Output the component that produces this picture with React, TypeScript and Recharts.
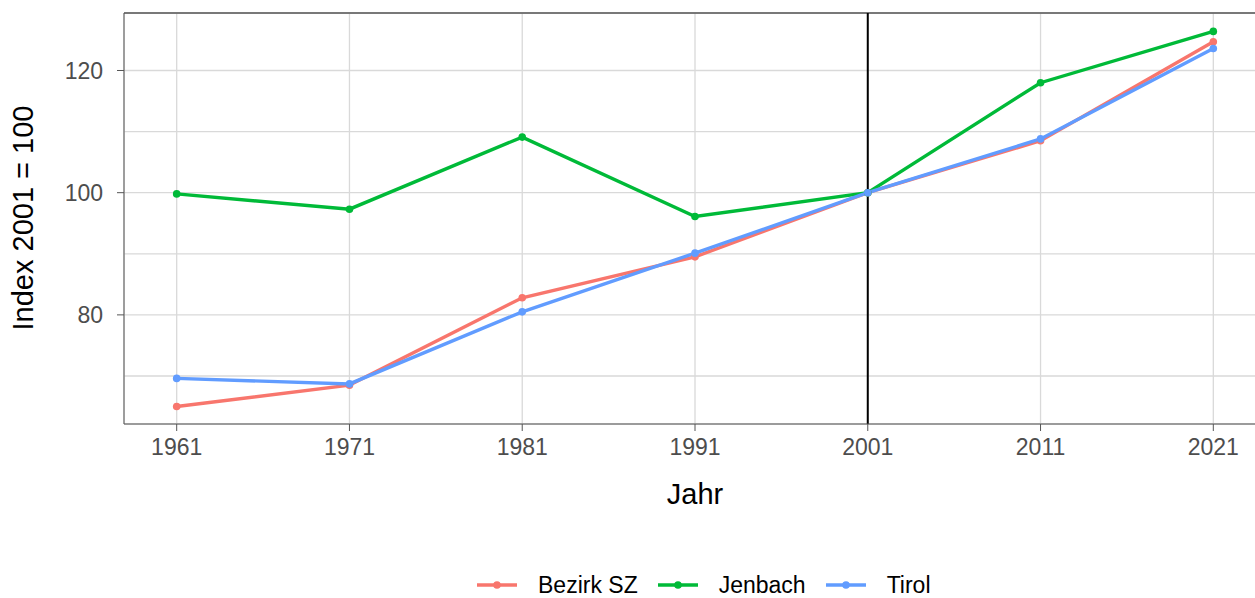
import { LineChart, Line, XAxis, YAxis, CartesianGrid, ReferenceLine } from 'recharts';

// Index 2001 = 100
const years = [1961, 1971, 1981, 1991, 2001, 2011, 2021];
const bezirkSZ = [65.0, 68.5, 82.8, 89.5, 100, 108.5, 124.7];
const jenbach = [99.8, 97.3, 109.1, 96.1, 100, 118.0, 126.4];
const tirol = [69.6, 68.7, 80.5, 90.1, 100, 108.8, 123.6];

const yTicks = [80, 100, 120];
const yMinor = [70, 90, 110];

const series = [
  { key: 'bezirk', name: 'Bezirk SZ', color: '#F8766D' },
  { key: 'jenbach', name: 'Jenbach', color: '#00BA38' },
  { key: 'tirol', name: 'Tirol', color: '#619CFF' },
];

const data = years.map((year, i) => ({
  year,
  bezirk: bezirkSZ[i],
  jenbach: jenbach[i],
  tirol: tirol[i],
}));

const FONT = '"Liberation Sans", Arial, sans-serif';
const Y_MIN = 62.14;
const Y_MAX = 129.41;

const YTitle = () => (
  <text
    x={23}
    y={218}
    transform="rotate(-90, 23, 218)"
    textAnchor="middle"
    dominantBaseline="central"
    fontSize={29}
    fill="#000"
    fontFamily={FONT}
  >
    Index 2001 = 100
  </text>
);

function LegendBox() {
  return (
    <div
      style={{
        position: 'absolute',
        left: 477,
        top: 572,
        display: 'flex',
        alignItems: 'center',
        fontFamily: FONT,
        fontSize: 23,
        color: '#000',
      }}
    >
      {series.map((s) => (
        <div key={s.key} style={{ display: 'flex', alignItems: 'center', marginRight: 20 }}>
          <svg width={40} height={26}>
            <line x1={0} y1={13} x2={40} y2={13} stroke={s.color} strokeWidth={3.4} />
            <circle cx={20} cy={13} r={3.8} fill={s.color} />
          </svg>
          <span style={{ marginLeft: 21, lineHeight: '26px' }}>{s.name}</span>
        </div>
      ))}
    </div>
  );
}

export default function App() {
  return (
    <div
      style={{
        position: 'absolute',
        left: 0,
        top: 0,
        width: 1255,
        height: 598,
        overflow: 'hidden',
        background: '#fff',
        fontFamily: FONT,
      }}
    >
      <LineChart width={1266} height={598} data={data} margin={{ top: 13, right: 0, bottom: 84, left: 0 }}>
        <CartesianGrid stroke="#d9d9d9" strokeWidth={1.3} />
        {yMinor.map((v) => (
          <ReferenceLine key={v} y={v} stroke="#d9d9d9" strokeWidth={1.3} />
        ))}
        <ReferenceLine y={Y_MAX} stroke="#555" strokeWidth={1.3} />
        <XAxis
          dataKey="year"
          type="number"
          domain={[1957.95, 2024.05]}
          allowDataOverflow
          ticks={years}
          height={90}
          tickSize={7}
          tickMargin={8}
          stroke="#555"
          tick={{ fill: '#4d4d4d', fontSize: 23, fontFamily: FONT }}
          label={{ value: 'Jahr', position: 'insideBottom', offset: 10, fontSize: 29, fill: '#000', fontFamily: FONT }}
        />
        <YAxis
          type="number"
          domain={[Y_MIN, Y_MAX]}
          allowDataOverflow
          ticks={yTicks}
          width={124}
          tickSize={7}
          tickMargin={14}
          stroke="#555"
          tick={{ fill: '#4d4d4d', fontSize: 23, fontFamily: FONT }}
          label={<YTitle />}
        />
        <ReferenceLine x={2001} stroke="#000" strokeWidth={2} />
        {series.map((s) => (
          <Line
            key={s.key}
            dataKey={s.key}
            name={s.name}
            stroke={s.color}
            strokeWidth={3.4}
            dot={{ r: 3.8, fill: s.color, stroke: s.color, strokeWidth: 0 }}
            isAnimationActive={false}
          />
        ))}
      </LineChart>
      <LegendBox />
    </div>
  );
}
